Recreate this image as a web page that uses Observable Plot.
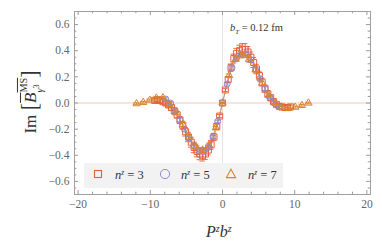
<!DOCTYPE html>
<html><head><meta charset="utf-8">
<script src="https://cdn.jsdelivr.net/npm/d3@7"></script>
<script src="https://cdn.jsdelivr.net/npm/@observablehq/plot@0.6"></script>
<style>
body{margin:0;background:#fff;}
#wrap{position:relative;width:382px;height:243px;font-family:"Liberation Serif","DejaVu Serif",serif;color:#333;}
#wrap svg{display:block;}
.ov{position:absolute;white-space:nowrap;line-height:1;}
.it{font-style:italic;}
sup,sub{font-size:65%;line-height:0;}
</style></head><body><div id="wrap"></div>
<script>
// ---- data ----
const x3 = [-9.42,-9.03,-8.64,-8.25,-7.85,-7.46,-7.07,-6.68,-6.28,-5.89,-5.50,-5.11,-4.71,-4.32,-3.93,-3.53,-3.14,-2.75,-2.36,-1.96,-1.57,-1.18,-0.79,-0.39,0,
            0.39,0.79,1.18,1.57,1.96,2.36,2.75,3.14,3.53,3.93,4.32,4.71,5.11,5.50,5.89,6.28,6.68,7.07,7.46,7.85,8.25,8.64,9.03,9.42];
const y3 = [0.02,0.025,0.02,0.01,0.0,-0.015,-0.035,-0.06,-0.09,-0.13,-0.17,-0.22,-0.26,-0.30,-0.34,-0.37,-0.39,-0.40,-0.39,-0.36,-0.32,-0.26,-0.18,-0.10,0,
            0.10,0.18,0.27,0.34,0.38,0.40,0.41,0.41,0.39,0.35,0.31,0.26,0.21,0.16,0.11,0.07,0.04,0.01,-0.01,-0.025,-0.03,-0.035,-0.035,-0.03];
const e3 = [0.014,0.014,0.015,0.016,0.017,0.018,0.02,0.022,0.025,0.028,0.03,0.033,0.036,0.038,0.04,0.042,0.044,0.044,0.042,0.038,0.034,0.028,0.02,0.012,0.004,
            0.012,0.02,0.028,0.034,0.038,0.042,0.044,0.044,0.042,0.04,0.038,0.036,0.033,0.03,0.028,0.025,0.022,0.02,0.018,0.017,0.016,0.015,0.014,0.014];

const x5 = [-7.85,-7.20,-6.54,-5.89,-5.24,-4.58,-3.93,-3.27,-2.62,-1.96,-1.31,-0.65,0,0.65,1.31,1.96,2.62,3.27,3.93,4.58,5.24,5.89,6.54,7.20,7.85];
const y5 = [0.03,0.0,-0.06,-0.13,-0.20,-0.27,-0.33,-0.365,-0.37,-0.34,-0.26,-0.14,0,0.145,0.27,0.345,0.375,0.37,0.33,0.26,0.185,0.11,0.045,0.0,-0.03];
const e5 = [0.01,0.011,0.012,0.014,0.016,0.018,0.02,0.02,0.018,0.016,0.012,0.008,0.003,0.008,0.012,0.016,0.018,0.02,0.02,0.018,0.016,0.014,0.012,0.011,0.01];

const x7 = [-11.91,-10.99,-10.08,-9.16,-8.25,-7.33,-6.41,-5.50,-4.58,-3.67,-2.75,-1.83,-0.92,0,0.92,1.83,2.75,3.67,4.58,5.50,6.41,7.33,8.25,9.16,10.08,10.99,11.91];
const y7 = [-0.005,0.005,0.022,0.038,0.04,-0.01,-0.075,-0.165,-0.26,-0.335,-0.36,-0.325,-0.19,0,0.21,0.335,0.365,0.335,0.255,0.15,0.06,0.0,-0.035,-0.04,-0.032,-0.018,0.0];
const e7 = [0.006,0.007,0.008,0.009,0.01,0.012,0.014,0.016,0.018,0.02,0.02,0.018,0.012,0.003,0.012,0.018,0.02,0.02,0.018,0.016,0.014,0.012,0.01,0.009,0.008,0.007,0.006];

const seriesNames = ["3","5","7"];
const seriesColors = ["#e5603c","#8f8bd0","#d9852c"];
const seriesSymbols = ["square","circle","triangle"];
const seriesR = [3.4,3.0,2.7];

const xMajor = [-20,-10,0,10,20];
const xMinor = [-18,-16,-14,-12,-8,-6,-4,-2,2,4,6,8,12,14,16,18];
const yMajor = [-0.6,-0.4,-0.2,0,0.2,0.4,0.6];
const yMinor = [-0.65,-0.55,-0.5,-0.45,-0.35,-0.3,-0.25,-0.15,-0.1,-0.05,0.05,0.1,0.15,0.25,0.3,0.35,0.45,0.5,0.55,0.65];

// ---- chart ----
const W = 382, H = 243, ML = 74, MR = 12, MT = 11, MB = 49;
const FW = W - ML - MR, FH = H - MT - MB;
const frameC = "#a0a0a0";
const tickC = "#9a9a9a";

const sets = [[x3,y3,e3],[x5,y5,e5],[x7,y7,e7]].map(([xs,ys,es],i) =>
  xs.map((x,j)=>({x, y: ys[j], e: es[j], n: seriesNames[i]})));

const marks = [
  Plot.ruleY([0], {stroke:"#ecccc2", strokeWidth:1}),
  Plot.ruleX([0], {stroke:"#e4e4e4", strokeWidth:1}),
];
sets.forEach((data,i)=>{
  const c = seriesColors[i];
  marks.push(
    Plot.line(data, {x:"x", y:"y", stroke:c, strokeWidth:0.7, strokeOpacity:0.7}),
    Plot.ruleX(data, {x:"x", y1:d=>d.y-d.e, y2:d=>d.y+d.e, stroke:c, strokeWidth:0.9}),
    Plot.ruleY(data, {y:d=>d.y-d.e, x1:"x", x2:"x", insetLeft:-2.8, insetRight:-2.8, stroke:c, strokeWidth:0.9}),
    Plot.ruleY(data, {y:d=>d.y+d.e, x1:"x", x2:"x", insetLeft:-2.8, insetRight:-2.8, stroke:c, strokeWidth:0.9}),
    Plot.dot(data, {x:"x", y:"y", symbol:seriesSymbols[i], r:seriesR[i], stroke:c, fill:"none", strokeWidth:1})
  );
});
marks.push(
  Plot.frame({stroke:frameC, strokeWidth:1}),
  Plot.tickX(xMajor, {x:d=>d, stroke:tickC, insetTop:FH-4}),
  Plot.tickX(xMinor, {x:d=>d, stroke:tickC, insetTop:FH-2.3}),
  Plot.tickX(xMajor, {x:d=>d, stroke:tickC, insetBottom:FH-4}),
  Plot.tickX(xMinor, {x:d=>d, stroke:tickC, insetBottom:FH-2.3}),
  Plot.tickY(yMajor, {y:d=>d, stroke:tickC, insetRight:FW-4}),
  Plot.tickY(yMinor, {y:d=>d, stroke:tickC, insetRight:FW-2.3}),
  Plot.tickY(yMajor, {y:d=>d, stroke:tickC, insetLeft:FW-4}),
  Plot.tickY(yMinor, {y:d=>d, stroke:tickC, insetLeft:FW-2.3}),
  Plot.axisX(xMajor, {tickSize:0, tickPadding:5, tickFormat:d3.format("d"), fontSize:11.5, fill:"#666", label:null}),
  Plot.axisY(yMajor, {tickSize:0, tickPadding:5, tickFormat:d3.format(".1f"), fontSize:11.5, fill:"#666", label:null})
);

const chart = Plot.plot({
  width:W, height:H, marginLeft:ML, marginRight:MR, marginTop:MT, marginBottom:MB,
  style:{fontFamily:'"Liberation Serif","DejaVu Serif",serif', background:"#fff", overflow:"visible"},
  x:{domain:[-20.5,20.5]},
  y:{domain:[-0.7,0.7]},
  marks
});
const wrap = document.getElementById("wrap");
wrap.appendChild(chart);

// ---- overlays: legend and labels ----
function ov(html, css){ const d=document.createElement("div"); d.className="ov"; d.innerHTML=html; Object.assign(d.style, css); wrap.appendChild(d); return d; }

// legend box
const lg = document.createElement("div");
Object.assign(lg.style, {position:"absolute", left:"84px", top:"163px", width:"199px", height:"25px", background:"#f2f2f2"});
wrap.appendChild(lg);
const sym = [
  `<svg width="10" height="10"><rect x="1.5" y="1.5" width="7" height="7" fill="none" stroke="${seriesColors[0]}" stroke-width="1.1"/></svg>`,
  `<svg width="12" height="12"><circle cx="6" cy="6" r="4.6" fill="none" stroke="${seriesColors[1]}" stroke-width="1"/></svg>`,
  `<svg width="12" height="12"><path d="M6,1.2 L10.6,9.6 L1.4,9.6 Z" fill="none" stroke="${seriesColors[2]}" stroke-width="1.1"/></svg>`
];
const symX = [93, 159, 225], txtX = [115, 181, 248];
seriesNames.forEach((n,i)=>{
  ov(sym[i], {left:symX[i]+"px", top:(i===0?169:168)+"px"});
  ov(`<span class="it">n</span><sup class="it" style="font-size:60%;vertical-align:0.5em">z</sup> = ${n}`,
     {left:txtX[i]+"px", top:"169px", fontSize:"12.5px", color:"#333"});
});

// annotation
ov(`<span class="it">b</span><sub class="it" style="font-size:65%">T</sub> = 0.12 fm`, {left:"230px", top:"23px", fontSize:"10.5px", color:"#333"});

// x label
ov(`<span class="it">P</span><sup class="it" style="font-size:62%;vertical-align:0.55em">z</sup><span class="it">b</span><sup class="it" style="font-size:62%;vertical-align:0.55em">z</sup>`,
   {left:"206px", top:"224px", fontSize:"16px", color:"#333"});

// y label (rotated)
const yl = ov(`Im<span style="font-size:130%;position:relative;top:1px">&thinsp;[</span><span class="it" style="text-decoration:overline">B</span><span style="display:inline-block;position:relative;font-size:60%;line-height:1"><span style="position:relative;top:-0.9em;text-decoration:overline">MS</span><span class="it" style="position:absolute;left:0;top:0.7em">γ<sup style="font-size:80%;font-style:normal">3</sup></span></span><span style="font-size:130%;position:relative;top:1px">]</span>`,
   {left:"29px", top:"102px", fontSize:"17px", color:"#333", transform:"translate(-50%,-50%) rotate(-90deg)"});
</script>
</body></html>
